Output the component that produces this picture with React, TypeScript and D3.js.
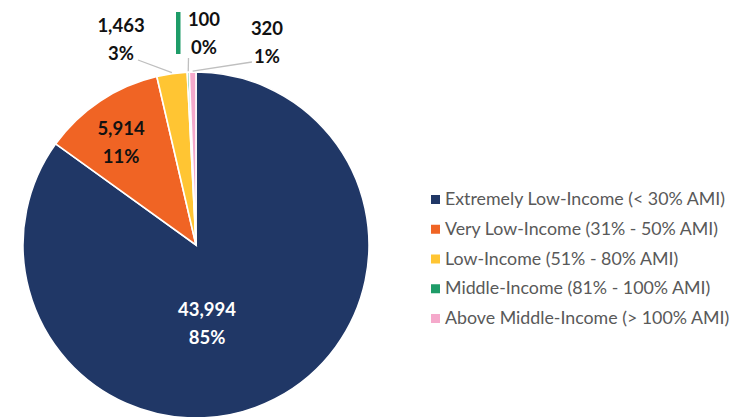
import React from "react";
import * as d3 from "d3";

const categories = [
  "Extremely Low-Income (< 30% AMI)",
  "Very Low-Income (31% - 50% AMI)",
  "Low-Income (51% - 80% AMI)",
  "Middle-Income (81% - 100% AMI)",
  "Above Middle-Income (> 100% AMI)",
];
const values = [43994, 5914, 1463, 100, 320];
const percentLabels = ["85%", "11%", "3%", "0%", "1%"];
const colors = ["#203766", "#F06424", "#FFC533", "#1E9C68", "#F5A9CB"];

// label layout (positions of text, not marks)
const labelPos: { x: number; y: number; fill: string; leader: [number, number] | null }[] = [
  { x: 207, y: 316, fill: "#ffffff", leader: null },
  { x: 121, y: 135, fill: "#111111", leader: null },
  { x: 121, y: 32, fill: "#111111", leader: [138, 60] },
  { x: 204, y: 26, fill: "#111111", leader: [188.5, 58] },
  { x: 267, y: 35, fill: "#111111", leader: [252, 62] },
];

const W = 744;
const H = 417;
const cx = 196;
const cy = 245;
const R = 173;

export default function App() {
  const pie = d3.pie<number>().sort(null).value((d) => d)(values);
  const arc = d3.arc<d3.PieArcDatum<number>>().innerRadius(0).outerRadius(R);
  const fmt = d3.format(",");
  const legendY = d3.scaleLinear().domain([0, categories.length - 1]).range([205, 324]);

  return (
    <svg
      width={W}
      height={H}
      style={{ position: "fixed", left: 0, top: 0, background: "#fff" }}
      fontFamily="Lato, 'Open Sans', sans-serif"
    >
      <g transform={`translate(${cx},${cy})`}>
        {pie.map((p, i) => (
          <path key={i} d={arc(p) || ""} fill={colors[i]} stroke="#fff" strokeWidth={1.6} />
        ))}
      </g>
      {pie.map((p, i) => {
        const lp = labelPos[i];
        if (!lp.leader) return null;
        const mid = (p.startAngle + p.endAngle) / 2;
        const ex = cx + R * Math.sin(mid);
        const ey = cy - R * Math.cos(mid);
        return (
          <line key={"l" + i} x1={lp.leader[0]} y1={lp.leader[1]} x2={ex} y2={ey - 1} stroke="#BFBFBF" strokeWidth={1.3} />
        );
      })}
      {/* legend key for green data label */}
      <rect x={176} y={12} width={4.5} height={42} fill={colors[3]} />
      {pie.map((p, i) => {
        const lp = labelPos[i];
        return (
          <text key={"t" + i} x={lp.x} textAnchor="middle" fontWeight={700} fontSize={18.5} fill={lp.fill}>
            <tspan x={lp.x} y={lp.y}>{fmt(values[i])}</tspan>
            <tspan x={lp.x} y={lp.y + 27.5}>{percentLabels[i]}</tspan>
          </text>
        );
      })}
      {categories.map((c, i) => (
        <g key={"lg" + i}>
          <rect x={431} y={legendY(i) - 10} width={9} height={9} fill={colors[i]} />
          <text x={445} y={legendY(i)} fontSize={17.8} fill="#595959">
            {c}
          </text>
        </g>
      ))}
    </svg>
  );
}
